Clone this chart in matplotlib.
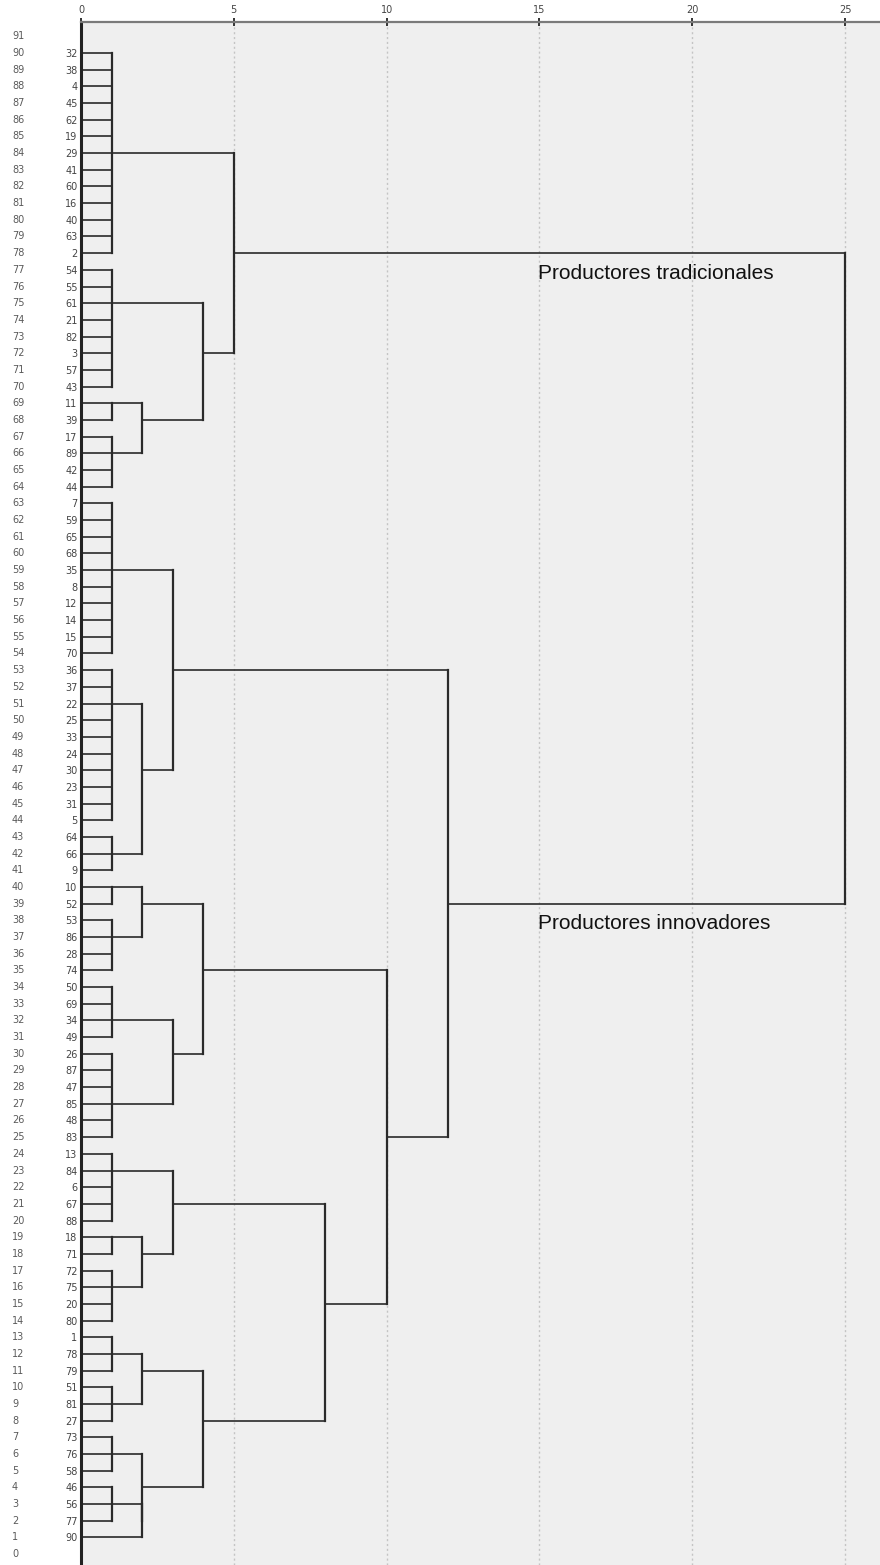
import math
import matplotlib
matplotlib.use("Agg")
import matplotlib.pyplot as plt
from matplotlib.transforms import blended_transform_factory

# ---------------- data ----------------
# leaf labels, top to bottom
leaf_labels = [32, 38, 4, 45, 62, 19, 29, 41, 60, 16, 40, 63, 2,
               54, 55, 61, 21, 82, 3, 57, 43,
               11, 39,
               17, 89, 42, 44,
               7, 59, 65, 68, 35, 8, 12, 14, 15, 70,
               36, 37, 22, 25, 33, 24, 30, 23, 31, 5,
               64, 66, 9,
               10, 52,
               53, 86, 28, 74,
               50, 69, 34, 49,
               26, 87, 47, 85, 48, 83,
               13, 84, 6, 67, 88,
               18, 71,
               72, 75, 20, 80,
               1, 78, 79,
               51, 81, 27,
               73, 76, 58,
               46, 56, 77,
               90]

# first-level groups (consecutive leaves joined at distance 1)
group_names = ['A', 'B', 'C1', 'C2', 'D1', 'D2', 'D3', 'E1', 'E2', 'F1', 'F2',
               'G1', 'G2', 'G3', 'H1', 'H2', 'H3', 'H4', 'L90']
group_sizes = [13, 8, 2, 4, 10, 10, 3, 2, 4, 4, 6, 5, 2, 4, 3, 3, 3, 3, 1]
group_anchor = [29, 61, 11, 89, 35, 22, 66, 10, 86, 34, 85, 84, 18, 75, 78, 81, 76, 56, 90]
group_level = 1

# higher merges
merge_names = ['C', 'BC', 'TOP', 'D23', 'D', 'E', 'F', 'EF', 'G23', 'G', 'H12', 'H4x',
               'H34', 'H', 'GH', 'EFGH', 'BOT', 'ROOT']
merge_left = ['C1', 'B', 'A', 'D2', 'D1', 'E1', 'F1', 'E', 'G2', 'G1', 'H1', 'H4',
              'H3', 'H12', 'G', 'EF', 'D', 'TOP']
merge_right = ['C2', 'C', 'BC', 'D3', 'D23', 'E2', 'F2', 'F', 'G3', 'G23', 'H2', 'L90',
               'H4x', 'H34', 'H', 'GH', 'EFGH', 'BOT']
merge_height = [2, 4, 5, 2, 3, 2, 3, 4, 2, 3, 2, 2, 2, 4, 8, 10, 12, 25]

x_ticks = [0, 5, 10, 15, 20, 25]
cluster_labels = ['Productores tradicionales', 'Productores innovadores']
cluster_label_pos = [(14.95, 76.45), (14.95, 37.48)]

# ---------------- figure ----------------
W, H = 880, 1565
fig = plt.figure(figsize=(W / 100, H / 100), dpi=100)
ax = fig.add_axes([81 / W, 0, (W - 81) / W, (H - 22) / H])
ax.set_facecolor('#efefef')

n = len(leaf_labels)
leaf_row = {lab: n - i for i, lab in enumerate(leaf_labels)}  # top leaf -> row 90

line_col = '#2a2a2a'
lw_h = 1.2
lw_v = 1.6

# grid lines
for xt in x_ticks[1:]:
    ax.axvline(xt, color='#c4c4c4', lw=1.0, ls=(0, (1.5, 2.0)), zorder=0)

nodes = {}
start = 0
for name, size, anc in zip(group_names, group_sizes, group_anchor):
    members = leaf_labels[start:start + size]
    start += size
    rows = [leaf_row[m] for m in members]
    if size == 1:
        nodes[name] = (rows[0], 0)
        continue
    for r in rows:
        ax.plot([0, group_level], [r, r], color=line_col, lw=lw_h, solid_capstyle='butt', zorder=2)
    ax.plot([group_level, group_level], [min(rows), max(rows)], color=line_col, lw=lw_v,
            solid_capstyle='projecting', zorder=3)
    nodes[name] = (leaf_row[anc], group_level)

for name, left, right, h in zip(merge_names, merge_left, merge_right, merge_height):
    r1, x1 = nodes[left]
    r2, x2 = nodes[right]
    ax.plot([x1, h], [r1, r1], color=line_col, lw=lw_h, solid_capstyle='butt', zorder=2)
    ax.plot([x2, h], [r2, r2], color=line_col, lw=lw_h, solid_capstyle='butt', zorder=2)
    ax.plot([h, h], [min(r1, r2), max(r1, r2)], color=line_col, lw=lw_v,
            solid_capstyle='projecting', zorder=3)
    nodes[name] = (math.ceil((r1 + r2) / 2), h)

# axes limits
ax.set_xlim(0, (W - 81) / 30.56)
ax.set_ylim(-0.65, 91.86)

# top axis
ax.xaxis.tick_top()
ax.set_xticks(x_ticks)
ax.set_xticklabels([str(v) for v in x_ticks], fontsize=7, color='#444444')
ax.tick_params(axis='x', direction='inout', length=6, width=1.4, color='#333333', pad=2)

# leaf labels on y axis
ax.set_yticks([leaf_row[l] for l in leaf_labels])
ax.set_yticklabels([str(l) for l in leaf_labels], fontsize=7, color='#444444')
ax.tick_params(axis='y', length=0, pad=2.5)

# row numbers column
trans = blended_transform_factory(fig.transFigure, ax.transData)
for r in range(0, n + 2):
    ax.text(12 / W, r, str(r), transform=trans, ha='left', va='center',
            fontsize=7, color='#5a5a5a', clip_on=False)

for sp in ['right', 'bottom']:
    ax.spines[sp].set_visible(False)
ax.spines['top'].set_color('#7a7a7a')
ax.spines['top'].set_linewidth(1.6)
ax.spines['left'].set_color('#222222')
ax.spines['left'].set_linewidth(2.2)

for txt, (tx, ty) in zip(cluster_labels, cluster_label_pos):
    ax.text(tx, ty, txt, fontsize=15, family='Liberation Sans', color='#111111',
            ha='left', va='baseline')

fig.savefig('out.png', dpi=100)
